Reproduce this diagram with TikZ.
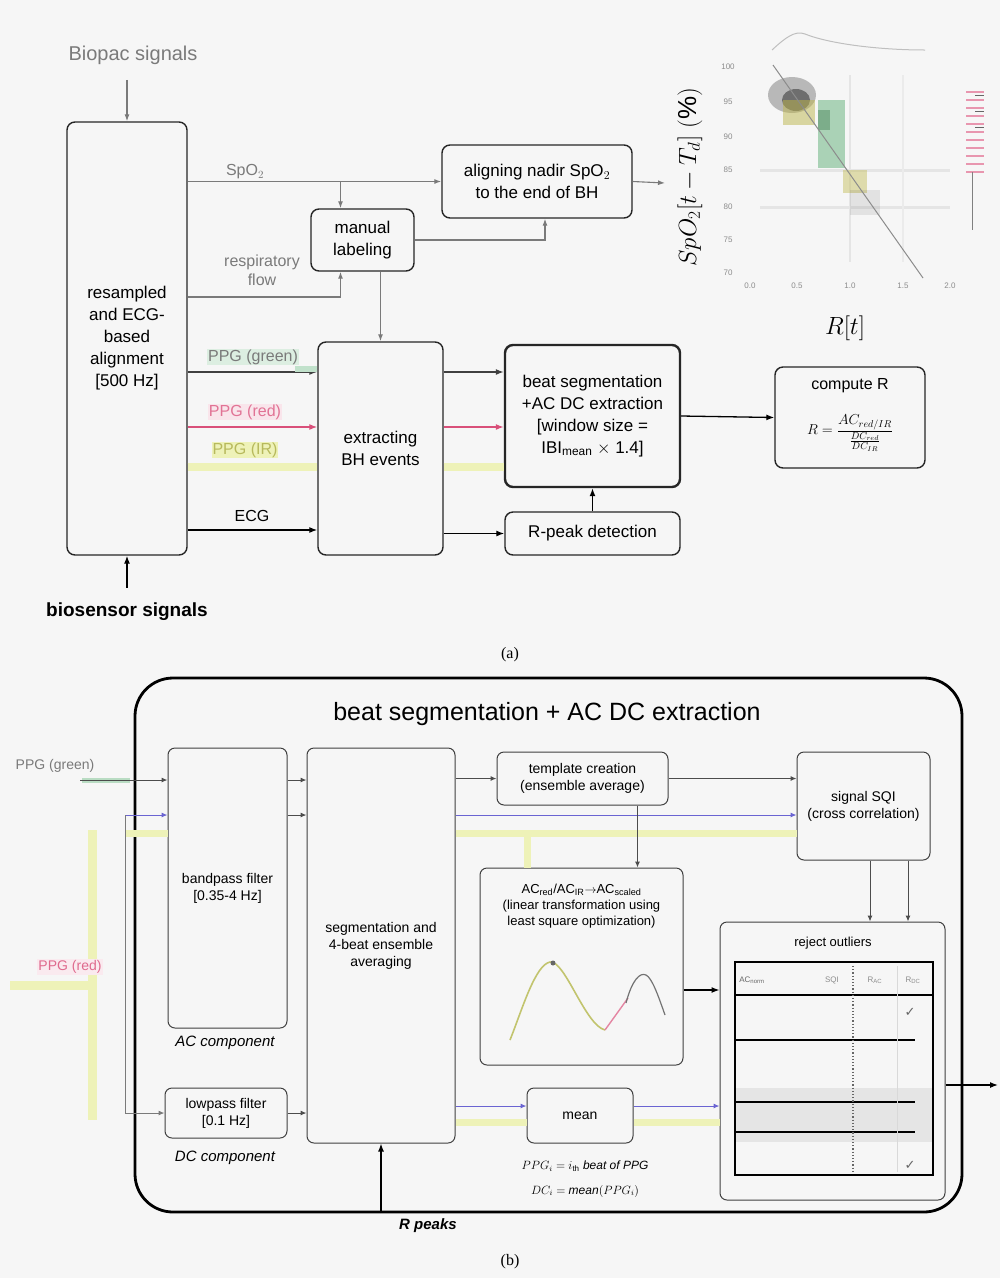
\documentclass[tikz,border=0pt]{standalone}
\usepackage{fontspec}
\setmainfont{Liberation Sans}
\newfontfamily\serifff{Liberation Serif}
\newfontfamily\dejavu{DejaVu Sans}
\usetikzlibrary{arrows.meta,calc}
\definecolor{bgc}{HTML}{F6F6F6}
\definecolor{lgray}{HTML}{7A7A7A}
\definecolor{pgreen}{HTML}{4FA86A}
\definecolor{pred}{HTML}{D9507A}
\definecolor{pyel}{HTML}{EEF2B8}
\definecolor{ppur}{HTML}{6A64D2}
\begin{document}
\begin{tikzpicture}[x=1pt,y=-1pt,
  boxa/.style={draw=black!85, line width=1.4pt, rounded corners=8pt, align=center, inner sep=2pt, font=\fontsize{17}{22}\selectfont},
  boxb/.style={draw=black!75, line width=1pt, rounded corners=7pt, align=center, inner sep=2pt, font=\fontsize{14}{17}\selectfont},
  arr/.style={-{Latex[length=8pt,width=6pt]}, line width=1.3pt},
  garr/.style={-{Latex[length=7pt,width=5pt]}, line width=1.1pt, draw=lgray},
  sarr/.style={-{Latex[length=6pt,width=5pt]}, line width=1pt, draw=black!70},
  yband/.style={line width=8pt, draw=pyel},
  lbl/.style={font=\fontsize{16}{19}\selectfont, inner sep=1pt},
  lblb/.style={font=\fontsize{13}{16}\selectfont, inner sep=1pt},
  tick/.style={font=\fontsize{8}{9}\selectfont, text=black!45, inner sep=0pt}
]
\fill[bgc] (0,0) rectangle (1000,1278);
\useasboundingbox (0,0) rectangle (1000,1278);

% ================= (a) =================
\node[boxa, minimum width=120, minimum height=433] (rs) at (127,338.5)
  {resampled\\and ECG-\\based\\alignment\\{[}500 Hz{]}};
\node[boxa, minimum width=103, minimum height=62] (ml) at (362.5,240) {manual\\labeling};
\node[boxa, minimum width=190, minimum height=73] (al) at (537,181.5) {aligning nadir SpO$_2$\\to the end of BH};
\node[boxa, minimum width=125, minimum height=213] (ex) at (380.5,448.5) {extracting\\BH events};
\node[boxa, line width=2.4pt, minimum width=175, minimum height=142] (bs) at (592.5,416)
  {beat segmentation\\+AC DC extraction\\{[}window size =\\IBI$_{\mathrm{mean}}$ $\times$ 1.4{]}};
\node[boxa, minimum width=175, minimum height=43] (rp) at (592.5,533.5) {R-peak detection};
\node[boxa, minimum width=150, minimum height=101] (cr) at (850,417.5) {};
\node[font=\fontsize{16}{19}\selectfont] (crt) at (850,386) {compute R};
\node[font=\fontsize{14}{16}\selectfont] (crf) at (850,433) {$R=\displaystyle\frac{AC_{red/IR}}{\frac{DC_{red}}{DC_{IR}}}$};

\node[font=\fontsize{20}{24}\selectfont, text=lgray] (bio) at (133,55) {Biopac signals};
\node[font=\bfseries\fontsize{19}{23}\selectfont] (bsig) at (127,612) {biosensor signals};
\draw[garr] (bio.south -| rs.north) ++(0,12) -- (rs.north);
\draw[arr] ([yshift=12]bsig.north -| rs.south) -- (rs.south);

\coordinate (yRF) at (0,297);
\coordinate (yG) at (0,372);
\coordinate (yR) at (0,427);
\coordinate (yI) at (0,467);
\coordinate (yE) at (0,530);
\coordinate (plotin) at (665,183);

\node[lbl, text=lgray] (lspo) at (245,172) {SpO$_2$};
\node[lbl, text=lgray, align=center, font=\fontsize{16}{19}\selectfont] (lrf) at (262,270) {respiratory\\flow};
\draw[garr] (rs.east |- al.west) -- (al.west);
\draw[garr] ([xshift=-22]ml.north |- al.west) -- ([xshift=-22]ml.north);
\draw[garr] (rs.east |- yRF) -| ([xshift=-22]ml.south);
\draw[garr] (ml.east) -| ([xshift=8]al.south);
\draw[garr] (al.east) -- (plotin);
\draw[garr] (ml.south -| ex.north) -- (ex.north);

% PPG lines
\node[lbl, text=lgray, fill=pgreen!20] (lpg) at (253,357) {PPG (green)};
\node[lbl, text=pred!80, fill=pred!15] (lpr) at (245,412) {PPG (red)};
\node[lbl, text=pyel!50!olive, fill=pyel] (lpi) at (245,450) {PPG (IR)};
\node[lbl] (lecg) at (252,516) {ECG};
\draw[arr, draw=black!75] (rs.east |- yG) -- (ex.west |- yG);
\fill[pgreen!35] ([xshift=-22]ex.west |- yG) rectangle ([yshift=6]ex.west |- yG);
\draw[arr, draw=pred] (rs.east |- yR) -- (ex.west |- yR);
\draw[yband] (rs.east |- yI) -- (ex.west |- yI);
\draw[arr] (rs.east |- yE) -- (ex.west |- yE);
\draw[arr, draw=black!75] (ex.east |- yG) -- (bs.west |- yG);
\draw[arr, draw=pred] (ex.east |- yR) -- (bs.west |- yR);
\draw[yband] (ex.east |- yI) -- (bs.west |- yI);
\draw[arr] (ex.east |- rp.west) -- (rp.west);
\draw[arr] (rp.north) -- (bs.south);
\draw[arr] (bs.east) -- (cr.west);

% scatter plot
\foreach \yy/\lab in {67/100,102/95,137/90,170/85,207/80,240/75,273/70}
  \node[tick] at (728,\yy) {\lab};
\foreach \xx/\lab in {750/0.0,797/0.5,850/1.0,903/1.5,950/2.0}
  \node[tick] at (\xx,286) {\lab};
\draw[black!10, line width=3pt] (760,170) -- (950,170);
\draw[black!10, line width=3pt] (760,207) -- (950,207);
\draw[black!10, line width=2pt] (850,75) -- (850,262);
\draw[black!8, line width=2pt] (903,75) -- (903,262);
\fill[black, opacity=0.25] (792,95) ellipse [x radius=24, y radius=18];
\fill[black, opacity=0.4] (796,100) ellipse [x radius=14, y radius=11];
\fill[olive!60, opacity=0.5] (783,100) rectangle (815,125);
\fill[pgreen, opacity=0.45] (818,100) rectangle (845,168);
\fill[pgreen!70!black, opacity=0.4] (818,110) rectangle (830,130);
\fill[olive!50, opacity=0.5] (843,170) rectangle (867,193);
\fill[black, opacity=0.08] (850,190) rectangle (880,215);
\draw[black!45, line width=1pt] (773,65) -- (923,278);
\draw[black!25, line width=1pt] (772,50) .. controls (785,38) and (795,30) .. (805,34) .. controls (830,44) and (880,50) .. (925,50);
\foreach \yy in {92,100,108,116,124,132,140,148,156,164,172}
  \draw[pred!60, line width=2.5pt] (966,\yy) -- (984,\yy);
\foreach \yy in {95,111,127}
  \draw[black!60, line width=1pt] (975,\yy) -- (984,\yy);
\draw[black!50, line width=1pt] (972,172) -- (972,230);
\node[rotate=90, font=\fontsize{26}{30}\selectfont] (ylab) at (690,177) {$SpO_2[t-T_d]$ $(\%)$};
\node[font=\fontsize{28}{32}\selectfont] (xlab) at (845,328) {$R[t]$};

\node[font=\serifff\fontsize{16}{19}\selectfont] (capa) at (510,655) {(a)};

% ================= (b) =================
\node[draw=black, line width=2.8pt, rounded corners=38pt, minimum width=827, minimum height=534] (bb) at (548.5,945) {};
\node[font=\fontsize{25}{29}\selectfont] (ttl) at (547,714) {beat segmentation + AC DC extraction};

\node[boxb, minimum width=119, minimum height=280] (bp) at (227.5,888) {bandpass filter\\{[}0.35-4 Hz{]}};
\node[boxb, minimum width=122, minimum height=50] (lp) at (226,1113) {lowpass filter\\{[}0.1 Hz{]}};
\node[boxb, minimum width=148, minimum height=395] (sg) at (381,945.5) {segmentation and\\4-beat ensemble\\averaging};
\node[boxb, minimum width=171, minimum height=53] (tc) at (582.5,778.5) {template creation\\(ensemble average)};
\node[boxb, minimum width=133, minimum height=108] (sqi) at (863.5,806) {signal SQI\\(cross correlation)};
\node[boxb, minimum width=203, minimum height=197] (ac) at (581.5,966.5) {};
\node[boxb, minimum width=225, minimum height=278] (ro) at (832.5,1061) {};
\node[boxb, minimum width=106, minimum height=55] (mn) at (580,1115.5) {mean};

\node[lblb, align=center, font=\fontsize{13}{16}\selectfont] (act) at (581.5,906)
  {AC$_{\mathrm{red}}$/AC$_{\mathrm{IR}}$$\rightarrow$AC$_{\mathrm{scaled}}$\\(linear transformation using\\least square optimization)};
\node[lblb] (rot) at (833,943) {reject outliers};
\node[lblb, font=\itshape\fontsize{15}{18}\selectfont] (acc) at (225,1043) {AC component};
\node[lblb, font=\itshape\fontsize{15}{18}\selectfont] (dcc) at (225,1158) {DC component};
\node[font=\fontsize{12}{14}\selectfont] (f1) at (585,1166) {$PPG_i = i_{\mathrm{th}}\ \mathit{beat\ of\ PPG}$};
\node[font=\fontsize{12}{14}\selectfont] (f2) at (585,1191) {$DC_i = \mathit{mean}(PPG_i)$};
\node[font=\itshape\bfseries\fontsize{15}{18}\selectfont] (rpk) at (428,1226) {R peaks};
\node[font=\serifff\fontsize{16}{19}\selectfont] (capb) at (510,1262) {(b)};

% wave in AC box
\draw[pyel!60!olive, line width=1.6pt] (510,1040) .. controls (522,1010) and (535,965) .. (550,962)
  .. controls (565,960) and (585,1025) .. (605,1030);
\fill[black!60] (553,963) circle (2.5);
\draw[pred!70, line width=1.4pt] (605,1030) -- (628,998);
\draw[black!55, line width=1.2pt] (626,1003) .. controls (632,980) and (640,972) .. (646,975) .. controls (652,978) and (658,995) .. (665,1015);

% table in reject outliers
\fill[black!10] (736,1088) rectangle (932,1142);
\draw[line width=1.2pt] (735,962) rectangle (933,1175);
\draw[line width=1.4pt] (735,995) -- (933,995);
\draw[line width=1.2pt] (735,1040) -- (915,1040);
\draw[line width=1.2pt] (735,1102) -- (915,1102);
\draw[line width=1.2pt] (735,1132) -- (915,1132);
\draw[black!60, dotted, line width=1.2pt] (853,966) -- (853,1172);
\draw[black!15, line width=1pt] (897,966) -- (897,1172);
\node[tick, text=black!60] (th1) at (752,980) {AC$_{\mathrm{norm}}$};
\node[tick] (th2) at (832,980) {SQI};
\node[tick] (th3) at (875,980) {R$_{\mathrm{AC}}$};
\node[tick] (th4) at (913,980) {R$_{\mathrm{DC}}$};
\node[font=\dejavu\fontsize{13}{14}\selectfont, text=black!60] (ck1) at (910,1012) {✓};
\node[font=\dejavu\fontsize{13}{14}\selectfont, text=black!60] (ck2) at (910,1165) {✓};

% inputs
\coordinate (bA) at (0,780);
\coordinate (bB) at (0,815);
\coordinate (bC) at (0,833);
\coordinate (bD) at (0,1106);
\coordinate (bE) at (0,1122);
\coordinate (bF) at (0,990);
\coordinate (bO) at (0,1085);
\coordinate (gin) at (80,780);
\coordinate (vin) at (125,815);
\coordinate (rpin) at (381,1213);
\coordinate (out) at (998,1085);

\draw[pyel, line width=9pt] (10,985) -- (92,985);
\draw[pyel, line width=9pt] (92,830) -- (92,1120);
\node[lblb, text=lgray, font=\fontsize{14}{16}\selectfont] (lgb) at (55,766) {PPG (green)};
\node[lblb, text=pred!85, fill=pred!12, font=\fontsize{14}{16}\selectfont] (lrb) at (70,967) {PPG (red)};
\draw[pgreen!40, line width=5pt] (82,780) -- (130,780);
\draw[sarr] (gin) -- (bp.west |- gin);
\draw[sarr, draw=ppur] (vin) -- (bp.west |- vin);
\draw[pyel, line width=7pt] (vin |- bC) -- (bp.west |- bC);
\draw[sarr, draw=lgray] (vin) |- (lp.west);
\draw[sarr] (bp.east |- bA) -- (sg.west |- bA);
\draw[sarr] (bp.east |- bB) -- (sg.west |- bB);
\draw[sarr] (lp.east) -- (lp.east -| sg.west);
\draw[sarr] (sg.east |- tc.west) -- (tc.west);
\draw[sarr] (tc.east) -- (tc.east -| sqi.west);
\draw[pyel, line width=7pt] (sg.east |- bC) -- (sqi.west |- bC);
\draw[sarr, draw=ppur] (sg.east |- bB) -- (sqi.west |- bB);
\draw[pyel, line width=7pt] ([xshift=-54.5]ac.north |- bC) -- ([xshift=-54.5]ac.north);
\draw[sarr] ([xshift=55]tc.south) -- ([xshift=55]tc.south |- ac.north);
\draw[arr] (ac.east |- bF) -- (ro.west |- bF);
\draw[sarr] ([xshift=6.5]sqi.south) -- ([xshift=6.5]sqi.south |- ro.north);
\draw[sarr] ([xshift=44.5]sqi.south) -- ([xshift=44.5]sqi.south |- ro.north);
\draw[arr] (ro.east |- bO) -- (out);
\draw[pyel, line width=7pt] (sg.east |- bE) -- (mn.west |- bE);
\draw[pyel, line width=7pt] (mn.east |- bE) -- (ro.west |- bE);
\draw[sarr, draw=ppur] (sg.east |- bD) -- (mn.west |- bD);
\draw[sarr, draw=ppur] (mn.east |- bD) -- (ro.west |- bD);
\draw[arr] (rpin) -- (sg.south);
\end{tikzpicture}
\end{document}
